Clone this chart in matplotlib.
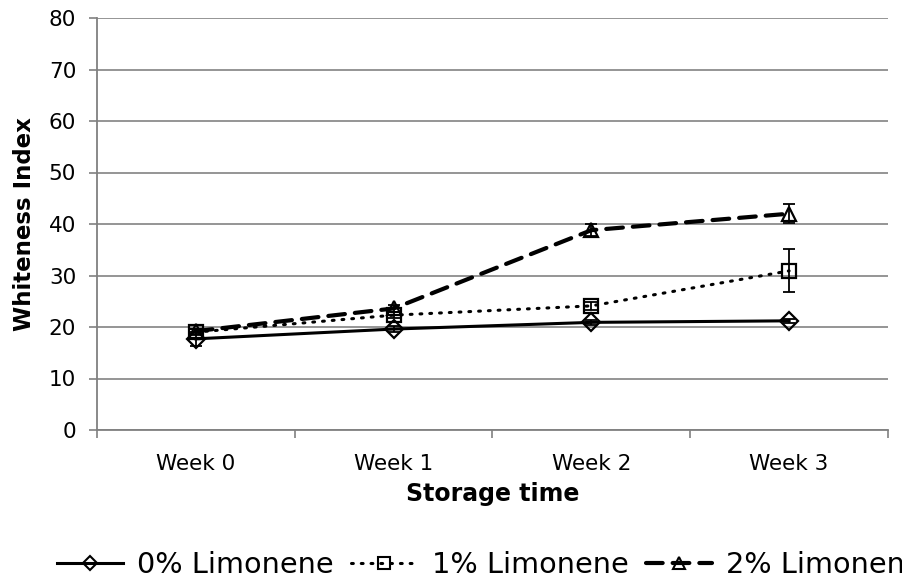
import numpy as np
import matplotlib.pyplot as plt
from matplotlib.lines import Line2D

weeks = ["Week 0", "Week 1", "Week 2", "Week 3"]
lim0 = [17.7, 19.6, 20.9, 21.2]
lim0_err = [1.4, 0.5, 0.5, 0.4]
lim1 = [19.0, 22.3, 24.1, 30.9]
lim1_err = [0.6, 0.6, 0.8, 4.2]
lim2 = [19.2, 23.6, 38.8, 42.0]
lim2_err = [0.5, 0.6, 1.2, 1.8]
names = ["0% Limonene", "1% Limonene", "2% Limonene"]

plt.rcParams['font.family'] = ['DejaVu Sans']

fig = plt.figure(figsize=(9.03, 5.82), dpi=100)
ax = fig.add_axes([97 / 903, 1 - 430 / 582, (888 - 97) / 903, (430 - 18) / 582])

x = np.arange(len(weeks))
styles = [
    dict(ls='-', lw=2.2, marker='D', ms=9),
    dict(ls=(0, (0.6, 2.6)), lw=2.2, marker='s', ms=10.5, dash_capstyle='round'),
    dict(ls=(0, (4, 2.4)), lw=3, marker='^', ms=10.5, dash_capstyle='round'),
]
series = [(lim0, lim0_err), (lim1, lim1_err), (lim2, lim2_err)]

handles = []
for (y, err), st, name in zip(series, styles, names):
    ax.errorbar(x, y, yerr=err, fmt='none', ecolor='black', elinewidth=1.3,
                capsize=4, capthick=1.3, zorder=3)
    ax.plot(x, y, color='black', markerfacecolor='none', markeredgecolor='black',
            markeredgewidth=1.6, zorder=4, **st)
    leg_st = dict(st, ms=st['ms'] - 1.5)
    handles.append(Line2D([], [], color='black', markerfacecolor='none',
                          markeredgecolor='black', markeredgewidth=1.5, label=name, **leg_st))

ax.set_xlim(-0.5, 3.5)
ax.set_ylim(0, 80)
ax.set_yticks(np.arange(0, 81, 10))
ax.yaxis.grid(True, color='#8c8c8c', lw=1.3)
ax.set_axisbelow(True)

ax.set_xticks(np.arange(-0.5, 3.6, 1))
ax.set_xticklabels([])
ax.set_xticks(x, minor=True)
ax.set_xticklabels(weeks, minor=True)
ax.tick_params(axis='x', which='minor', length=0, pad=17, labelsize=15.5)
ax.tick_params(axis='x', which='major', length=6, direction='out', color='#808080', width=1.2)
ax.tick_params(axis='y', length=6, direction='out', color='#808080', width=1.2,
               labelsize=15.5, pad=9)

for s in ['top', 'right']:
    ax.spines[s].set_visible(False)
for s in ['left', 'bottom']:
    ax.spines[s].set_color('#808080')
    ax.spines[s].set_linewidth(1.3)

ax.set_xlabel('Storage time', fontsize=17, fontweight='bold')
ax.set_ylabel('Whiteness Index', fontsize=16.5, fontweight='bold')
ax.xaxis.set_label_coords(0.5, (430 - 482) / 412)
ax.yaxis.set_label_coords((36 - 97) / 791, 0.5)

fig.legend(handles=handles, loc='center left', bbox_to_anchor=(57 / 903, 1 - 565 / 582),
           ncol=3, frameon=False, fontsize=20.7, handlelength=2.3, handletextpad=0.5,
           columnspacing=0.6, borderaxespad=0, borderpad=0)

fig.savefig('out.png', dpi=100)
